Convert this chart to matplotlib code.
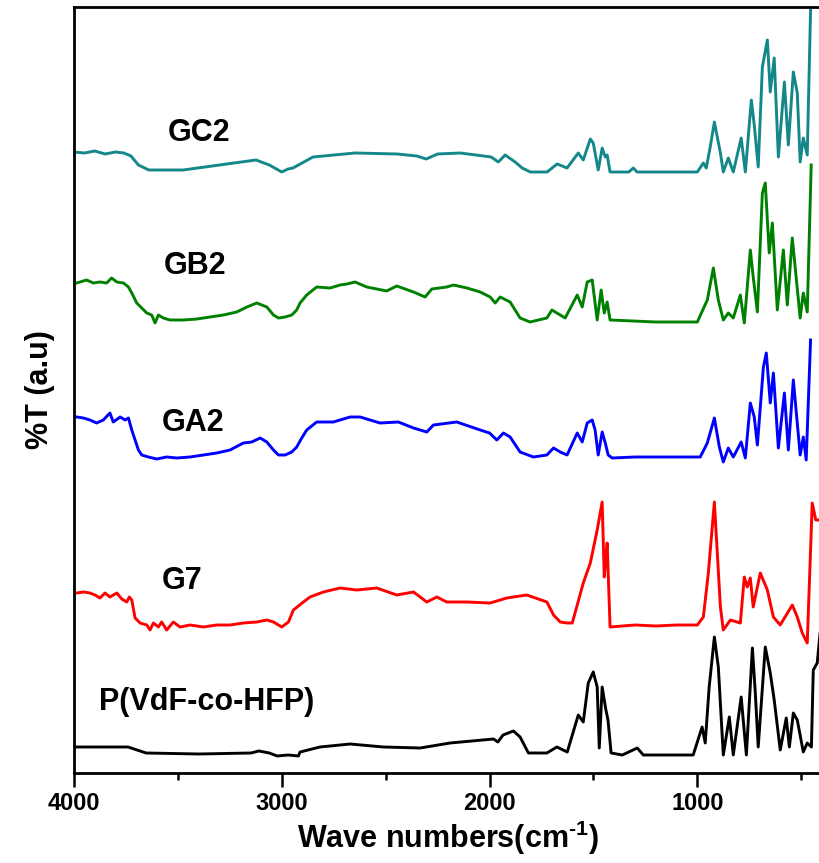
import matplotlib
matplotlib.use('Agg')
import matplotlib.pyplot as plt

plt.rcParams['font.family'] = ['Liberation Sans', 'DejaVu Sans']
plt.rcParams['mathtext.fontset'] = 'custom'
plt.rcParams['mathtext.rm'] = 'Liberation Sans:bold'
plt.rcParams['mathtext.default'] = 'rm'

# wavenumber (cm-1) and %T (a.u, offset already included)
pvdf_wn = [4000, 3990, 3740, 3653, 3400, 3148, 3110, 3060, 3022, 2970, 2920, 2912, 2816, 2671, 2511,
           2334, 2190, 1981, 1960, 1935, 1885, 1853, 1813, 1724, 1676, 1626, 1573, 1549, 1525, 1501,
           1482, 1472, 1458, 1440, 1430, 1415, 1361, 1289, 1260, 1020, 977, 962, 943, 918, 899, 875,
           846, 827, 789, 764, 735, 721, 707, 673, 649, 630, 601, 572, 557, 538, 519, 490, 471, 451,
           442, 423, 400]
pvdf_t = [26, 26, 26, 20, 19, 20, 22, 20, 17, 18, 17, 21, 26, 29, 26,
          25, 30, 34, 31, 38, 42, 36, 20, 20, 26, 21, 58, 51, 90, 101,
          86, 25, 86, 63, 53, 20, 18, 25, 18, 18, 46, 30, 86, 136, 106, 18,
          56, 18, 76, 18, 125, 80, 26, 126, 100, 73, 23, 55, 26, 60, 53, 21, 30, 26,
          103, 110, 160]

g7_wn = [4000, 3987, 3955, 3923, 3899, 3875, 3851, 3827, 3794, 3770, 3746, 3734, 3722, 3706, 3682,
         3650, 3634, 3618, 3594, 3578, 3554, 3522, 3490, 3441, 3377, 3313, 3249, 3185, 3120, 3072,
         3040, 3016, 3000, 2968, 2944, 2896, 2864, 2800, 2719, 2639, 2543, 2447, 2366, 2334, 2302,
         2254, 2206, 2109, 1997, 1917, 1821, 1724, 1692, 1660, 1627, 1602, 1578, 1549, 1515, 1482,
         1458, 1448, 1440, 1434, 1420, 1300, 1200, 1100, 1000, 971, 947, 918, 889, 875, 841, 793,
         774, 760, 745, 731, 697, 663, 634, 601, 543, 519, 495, 471, 447, 430, 400]
g7_t = [180, 180, 181, 180, 178, 175, 180, 176, 180, 174, 171, 176, 173, 155, 150,
        148, 143, 150, 146, 151, 143, 151, 146, 148, 146, 148, 148, 150, 151, 153,
        151, 148, 146, 151, 163, 171, 176, 181, 185, 183, 185, 178, 181, 176, 171,
        176, 171, 171, 170, 175, 178, 171, 158, 151, 150, 150, 168, 190, 210, 243,
        271, 196, 215, 230, 146, 148, 147, 148, 148, 156, 200, 271, 166, 143, 153, 150,
        196, 186, 195, 166, 200, 183, 156, 148, 168, 156, 140, 130, 270, 253, 253]

ga2_wn = [4000, 3987, 3955, 3923, 3891, 3859, 3827, 3811, 3778, 3754, 3738, 3722, 3706, 3690, 3674,
          3642, 3602, 3554, 3506, 3441, 3377, 3313, 3249, 3185, 3145, 3104, 3072, 3040, 3016, 2984,
          2952, 2928, 2904, 2880, 2832, 2752, 2671, 2623, 2527, 2439, 2366, 2302, 2270, 2158, 2045,
          2000, 1965, 1933, 1901, 1853, 1789, 1724, 1692, 1660, 1627, 1578, 1554, 1530, 1506, 1492,
          1477, 1458, 1443, 1429, 1410, 1300, 1200, 1100, 986, 952, 918, 894, 875, 851, 827, 789,
          769, 745, 726, 711, 682, 668, 649, 634, 610, 581, 562, 538, 505, 490, 476, 455]
ga2_t = [356, 356, 355, 353, 350, 353, 360, 351, 356, 353, 355, 343, 333, 323, 318,
         316, 314, 316, 315, 316, 318, 320, 323, 330, 331, 335, 331, 323, 318, 318,
         321, 326, 335, 343, 351, 351, 356, 356, 350, 351, 345, 341, 348, 351, 343,
         340, 333, 340, 336, 321, 316, 318, 325, 321, 318, 340, 331, 350, 353, 343,
         318, 341, 330, 318, 315, 316, 316, 316, 316, 330, 355, 326, 311, 325, 316, 331,
         315, 370, 356, 328, 406, 420, 370, 400, 325, 380, 323, 393, 318, 336, 313, 433]

gb2_wn = [4000, 3987, 3939, 3907, 3875, 3843, 3819, 3794, 3762, 3738, 3722, 3698, 3674, 3650, 3626,
          3610, 3594, 3570, 3538, 3474, 3409, 3345, 3281, 3217, 3168, 3120, 3072, 3040, 3016, 2984,
          2952, 2928, 2912, 2880, 2832, 2768, 2719, 2687, 2647, 2591, 2495, 2447, 2366, 2310, 2278,
          2206, 2174, 2109, 2045, 1997, 1973, 1949, 1901, 1853, 1805, 1724, 1700, 1660, 1636, 1578,
          1554, 1530, 1506, 1482, 1463, 1448, 1434, 1420, 1200, 1000, 952, 923, 899, 875, 851, 827,
          793, 774, 745, 731, 711, 687, 673, 654, 639, 615, 586, 567, 543, 505, 490, 471, 452]
gb2_t = [490, 490, 493, 490, 491, 490, 495, 491, 490, 486, 480, 470, 465, 460, 458,
         450, 458, 455, 453, 453, 454, 456, 458, 461, 466, 470, 466, 458, 455, 456,
         458, 463, 470, 478, 486, 485, 488, 489, 491, 486, 482, 487, 481, 476, 484,
         486, 488, 485, 481, 476, 470, 476, 471, 455, 451, 455, 463, 458, 455, 478,
         466, 491, 493, 453, 483, 460, 471, 453, 451, 451, 473, 505, 473, 453, 460, 455,
         478, 450, 523, 496, 461, 580, 590, 520, 550, 463, 523, 468, 535, 455, 480, 461, 608]

gc2_wn = [4000, 3950, 3900, 3850, 3800, 3760, 3726, 3690, 3640, 3475, 3300, 3124, 3060, 3000, 2970,
          2946, 2850, 2647, 2445, 2350, 2305, 2250, 2141, 1992, 1958, 1925, 1877, 1843, 1804, 1723,
          1675, 1627, 1573, 1549, 1515, 1501, 1477, 1458, 1443, 1434, 1420, 1330, 1308, 1290, 1000,
          971, 957, 938, 918, 889, 875, 851, 827, 789, 769, 740, 726, 707, 687, 663, 649, 630, 610,
          581, 562, 538, 519, 505, 490, 471, 452]
gc2_t = [621, 620, 622, 619, 621, 620, 617, 608, 603, 603, 608, 613, 608, 601, 604,
         605, 616, 620, 619, 617, 614, 619, 620, 616, 611, 618, 611, 605, 601, 601,
         609, 605, 620, 613, 634, 630, 603, 625, 616, 618, 601, 601, 605, 601, 601,
         610, 605, 626, 651, 620, 601, 615, 601, 635, 601, 673, 648, 606, 706, 733, 681, 715, 616,
         691, 628, 701, 680, 611, 635, 618, 790]

names = ['P(VdF-co-HFP)', 'G7', 'GA2', 'GB2', 'GC2']
colors = ['black', '#ff0000', '#0000ff', '#008000', '#14878a']
spectra = [(pvdf_wn, pvdf_t), (g7_wn, g7_t), (ga2_wn, ga2_t), (gb2_wn, gb2_t), (gc2_wn, gc2_t)]
label_pos = [(3360, 71), (3480, 192), (3427, 350), (3417, 507), (3400, 640)]

fig = plt.figure(figsize=(8.19, 8.63), dpi=100)
ax = fig.add_axes([74 / 819, 90 / 863, 748 / 819, 766 / 863])

for (wn, t), c, name, (lx, ly) in zip(spectra, colors, names, label_pos):
    ax.plot(wn, t, color=c, lw=2.1)
    ax.text(lx, ly, name, fontsize=22, fontweight='bold', ha='center', va='center')

ax.set_xlim(4000, 400)
ax.set_ylim(0, 766)
ax.set_xticks([4000, 3000, 2000, 1000])
ax.set_xticks([3500, 2500, 1500, 500], minor=True)
ax.set_yticks([])
ax.tick_params(axis='x', which='major', length=10, width=1.8, direction='out', labelsize=17, pad=4)
ax.tick_params(axis='x', which='minor', length=5, width=1.8, direction='out')
for lab in ax.get_xticklabels():
    lab.set_fontweight('bold')
for s in ax.spines.values():
    s.set_linewidth(2)

ax.set_xlabel(r'Wave numbers(cm$^{\text{-1}}$)', fontsize=22, fontweight='bold', labelpad=2)
ax.set_ylabel('%T (a.u)', fontsize=22, fontweight='bold', labelpad=14)

fig.savefig('out.png', dpi=100)
